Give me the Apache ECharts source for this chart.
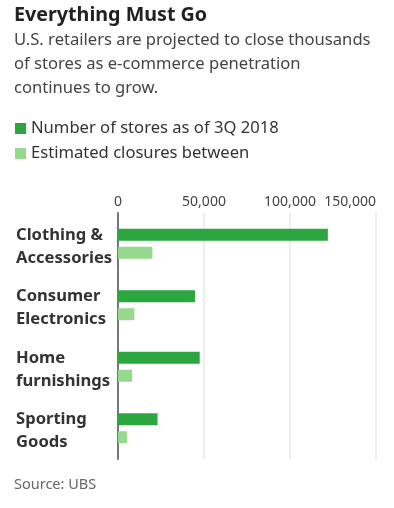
<!DOCTYPE html>
<html><head><meta charset="utf-8">
<script src="https://cdn.jsdelivr.net/npm/echarts@6/dist/echarts.min.js"></script>
<style>html,body{margin:0;padding:0;background:#fff}#c{width:394px;height:508px}</style>
</head><body><div id="c"></div>
<script>
const categories = ["Clothing &\nAccessories", "Consumer\nElectronics", "Home\nfurnishings", "Sporting\nGoods"];
const storesNow = [122000, 44800, 47500, 23000];
const closures = [20000, 9500, 8200, 5200];
const seriesNames = ["Number of stores as of 3Q 2018", "Estimated closures between"];
const xTicks = [0, 50000, 100000, 150000];

const FONT = "Noto Sans";
const chart = echarts.init(document.getElementById('c'), null, {renderer: 'canvas'});
chart.setOption({
  animation: false,
  textStyle: {fontFamily: FONT},
  title: [
    {text: "Everything Must Go", left: 14, top: 5, padding: 0, textStyle: {fontFamily: FONT, fontSize: 19.7, fontWeight: 'bold', color: '#222'}},
    {text: "U.S. retailers are projected to close thousands\nof stores as e-commerce penetration\ncontinues to grow.", left: 14, top: 28, padding: 0,
      textStyle: {fontFamily: FONT, fontSize: 16.6, fontWeight: 'normal', color: '#444', lineHeight: 24}},
    {text: "Source: UBS", left: 14, top: 477, padding: 0, textStyle: {fontFamily: FONT, fontSize: 14.5, fontWeight: 'normal', color: '#666'}}
  ],
  legend: {
    orient: 'vertical', left: 15, top: 120, padding: 0, itemWidth: 11, itemHeight: 11, itemGap: 8,
    icon: 'rect', data: seriesNames,
    textStyle: {fontFamily: FONT, fontSize: 16.6, color: '#333'}
  },
  grid: {left: 118, right: 18, top: 213, height: 246, containLabel: false},
  xAxis: {
    type: 'value', position: 'top', min: 0, max: 150000, interval: 50000,
    axisLine: {show: false}, axisTick: {show: false},
    splitLine: {show: true, lineStyle: {color: '#e8e8e8', width: 1.5}},
    axisLabel: {fontFamily: FONT, fontSize: 14, color: '#444', margin: 4, alignMaxLabel: 'right',
      formatter: v => v.toLocaleString('en-US')}
  },
  yAxis: {
    type: 'category', inverse: true, data: categories,
    axisLine: {show: true, lineStyle: {color: '#777', width: 2}}, axisTick: {show: false},
    axisLabel: {interval: 0, fontFamily: FONT, fontSize: 16.6, fontWeight: 'bold', color: '#333', align: 'left', margin: 102,
      lineHeight: 23, formatter: v => '{s| }\n' + v,
      rich: {s: {lineHeight: 6, fontSize: 6}}}
  },
  series: [
    {name: seriesNames[0], type: 'bar', data: storesNow, barWidth: 12, barGap: '50%', itemStyle: {color: '#2ca63e'}},
    {name: seriesNames[1], type: 'bar', data: closures, barWidth: 12, itemStyle: {color: '#95d88e'}}
  ]
});
</script></body></html>
